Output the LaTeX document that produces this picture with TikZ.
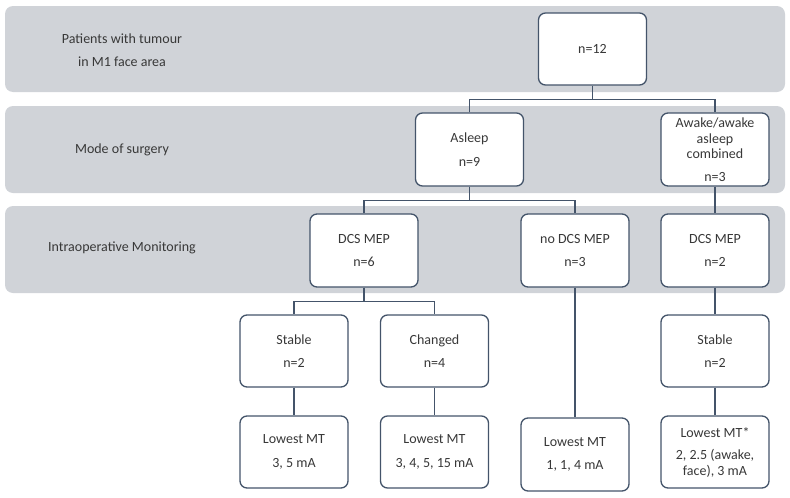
\documentclass[tikz,border=0pt]{standalone}
\usepackage{fontspec}
\setmainfont{Carlito}
\usepackage{tikz}
\usetikzlibrary{positioning,calc}

\definecolor{bandgray}{HTML}{D0D3D8}
\definecolor{boxline}{HTML}{44546A}
\definecolor{txtgray}{HTML}{383838}

\tikzset{
    band/.style={fill=bandgray, rounded corners=8pt},
    box/.style={draw=boxline, line width=1.3pt, rounded corners=7pt, fill=white,
        minimum width=108pt, minimum height=73pt, inner sep=0pt, align=center,
        text=txtgray, font=\fontsize{14}{15.5}\selectfont},
    rowlabel/.style={align=center, text=txtgray, font=\fontsize{14}{15.5}\selectfont},
    link/.style={draw=boxline, line width=1.3pt}
}

\begin{document}
\begin{tikzpicture}[x=1pt, y=-1pt]
    \useasboundingbox (0,0) rectangle (790,498);

    % Grey bands
    \foreach \top/\bot in {6/92, 106/193, 206/293}
        \fill[band] (5,\top) rectangle (785,\bot);

    % Row labels
    \node[rowlabel] (lab1) at (122,50) {Patients with tumour\\[8pt]in M1 face area};
    \node[rowlabel] (lab2) at (122,150) {Mode of surgery};
    \node[rowlabel] (lab3) at (122,248) {Intraoperative Monitoring};

    % Level 1
    \node[box, minimum height=72pt] (total) at (592.5,49) {n=12};

    % Mode of surgery
    \node[box] (asleep) at (469.5,149.5) {Asleep\\[8pt]n=9};
    \node[box] (awake) at (715,149.5) {Awake/awake\\asleep\\combined\\[7pt]n=3};

    % Monitoring
    \node[box] (dcsA) at (364,250.5) {DCS MEP\\[8pt]n=6};
    \node[box] (nodcs) at (575,250.5) {no DCS MEP\\[8pt]n=3};
    \node[box] (dcsB) at (715,250.5) {DCS MEP\\[8pt]n=2};

    % MEP course
    \node[box, minimum height=72pt] (stableA) at (294,351) {Stable\\[8pt]n=2};
    \node[box, minimum height=72pt] (changed) at (434.5,351) {Changed\\[8pt]n=4};
    \node[box, minimum height=72pt] (stableB) at (715,351) {Stable\\[8pt]n=2};

    % Lowest motor thresholds
    \node[box, minimum height=72pt] (mtA) at (294,452) {Lowest MT\\[8pt]3, 5 mA};
    \node[box, minimum height=72pt] (mtB) at (434.5,452) {Lowest MT\\[8pt]3, 4, 5, 15 mA};
    \node[box] (mtC) at (575,454.5) {Lowest MT\\[8pt]1, 1, 4 mA};
    \node[box, minimum height=72pt] (mtD) at (715,452) {Lowest MT*\\[7pt]2, 2.5 (awake,\\face), 3 mA};

    % Connectors
    \draw[link] (total.south) -- ++(0,14) coordinate (j1);
    \draw[link] (asleep.north) |- (j1) -| (awake.north);
    \draw[link] (asleep.south) -- ++(0,14) coordinate (j2);
    \draw[link] (dcsA.north) |- (j2) -| (nodcs.north);
    \draw[link] (awake.south) -- (dcsB.north);
    \draw[link] (dcsA.south) -- ++(0,14) coordinate (j3);
    \draw[link] (stableA.north) |- (j3) -| (changed.north);
    \draw[link] (nodcs.south) -- (mtC.north);
    \draw[link] (dcsB.south) -- (stableB.north);
    \draw[link] (stableA.south) -- (mtA.north);
    \draw[link] (changed.south) -- (mtB.north);
    \draw[link] (stableB.south) -- (mtD.north);
\end{tikzpicture}
\end{document}
